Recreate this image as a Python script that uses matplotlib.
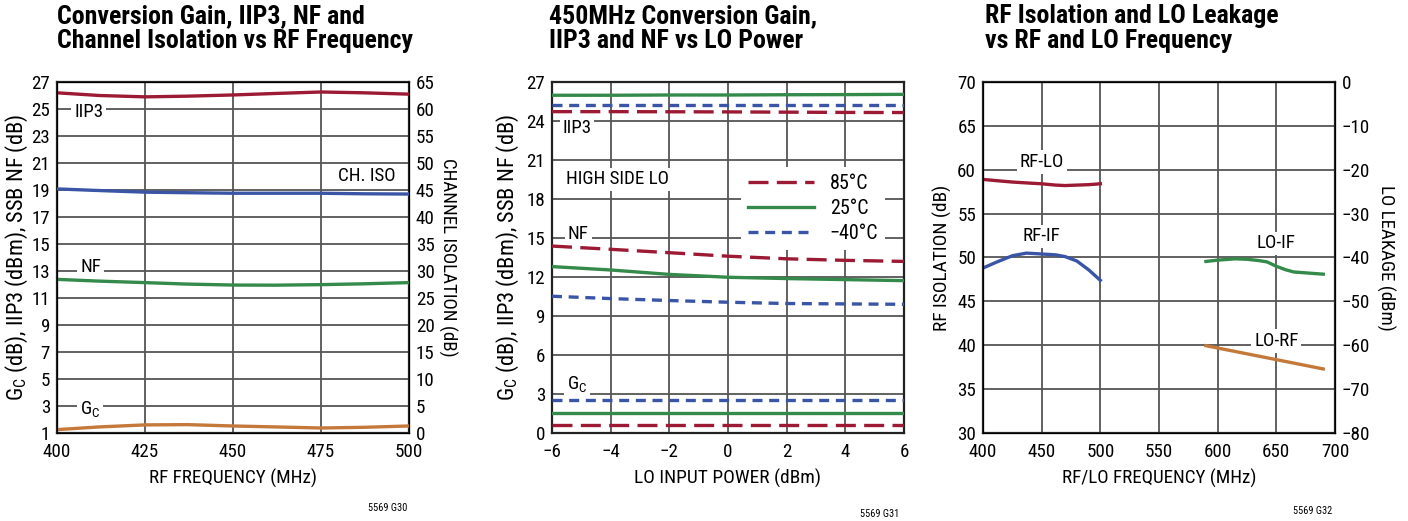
#!/usr/bin/env python3
"""
Conversion gain / IIP3 / NF / isolation plots, three panels side by side.
"""

import matplotlib
matplotlib.use("Agg")
import matplotlib.pyplot as plt
from matplotlib import font_manager

# --- data ---
# panel 1: vs RF frequency
rf_freq = [400, 412, 425, 437, 450, 462, 475, 487, 500]
iip3_rf = [26.2, 26.0, 25.9, 25.95, 26.04, 26.15, 26.26, 26.2, 26.1]
chiso_rf = [45.2, 44.9, 44.6, 44.5, 44.4, 44.4, 44.4, 44.3, 44.25]
nf_rf = [12.38, 12.25, 12.14, 12.03, 11.96, 11.95, 11.99, 12.05, 12.14]
gc_rf = [1.25, 1.45, 1.6, 1.62, 1.52, 1.45, 1.37, 1.42, 1.52]

# panel 2: vs LO power, three temperatures
lo_pwr = [-6, -4, -2, 0, 2, 4, 6]
iip3_85 = [24.72, 24.72, 24.71, 24.7, 24.68, 24.66, 24.65]
iip3_25 = [25.98, 25.98, 26.0, 26.0, 26.02, 26.03, 26.05]
iip3_m40 = [25.2, 25.2, 25.2, 25.2, 25.2, 25.2, 25.2]
nf_85 = [14.38, 14.13, 13.87, 13.6, 13.4, 13.28, 13.2]
nf_25 = [12.8, 12.54, 12.2, 11.98, 11.88, 11.8, 11.72]
nf_m40 = [10.52, 10.34, 10.19, 10.06, 9.96, 9.93, 9.9]
gc_85 = [0.64, 0.64, 0.64, 0.64, 0.64, 0.64, 0.64]
gc_25 = [1.56, 1.56, 1.56, 1.56, 1.56, 1.56, 1.56]
gc_m40 = [2.53, 2.53, 2.53, 2.53, 2.53, 2.53, 2.53]
temps = ["85°C", "25°C", "\u221240°C"]

# panel 3: isolation and leakage
rf_iso_freq = [400, 412, 425, 437, 450, 462, 470, 480, 490, 500]
rf_lo = [58.9, 58.75, 58.6, 58.5, 58.4, 58.25, 58.2, 58.25, 58.3, 58.4]
rf_if = [48.8, 49.5, 50.2, 50.5, 50.4, 50.3, 50.1, 49.6, 48.6, 47.4]
lo_freq = [590, 600, 615, 625, 635, 642, 650, 658, 665, 675, 690]
lo_if = [-40.9, -40.6, -40.3, -40.4, -40.7, -41.0, -42.0, -42.8, -43.3, -43.5, -43.8]
lo_rf_freq = [590, 690]
lo_rf = [-60.1, -65.4]

# --- font: look for a narrow sans, else plain DejaVu ---
FAM, STRETCH = "DejaVu Sans", "normal"
names = {}
for f in font_manager.fontManager.ttflist:
    names.setdefault(f.name, set()).add(str(f.stretch))
for cand in ["Liberation Sans Narrow", "Roboto Condensed", "DejaVu Sans Condensed",
             "Open Sans Condensed", "Noto Sans Condensed"]:
    if cand in names:
        FAM = cand
        break
else:
    for n, st in names.items():
        if n in ("DejaVu Sans", "Roboto", "Open Sans", "Noto Sans", "Liberation Sans") and \
                any(s in ("condensed", "semi-condensed", "75", "87.5") for s in st):
            FAM, STRETCH = n, "condensed"
            break
plt.rcParams["font.family"] = [FAM, "DejaVu Sans"]
plt.rcParams["font.stretch"] = STRETCH
plt.rcParams["mathtext.fontset"] = "custom"
plt.rcParams["mathtext.rm"] = FAM
plt.rcParams["axes.unicode_minus"] = True

RED = "#9c1a33"
BLUE = "#3b55a6"
GREEN = "#348a4a"
ORANGE = "#c4783a"
GRID = "#555555"
LW = 2.4
TICK_FS = 15
LAB_FS = 13.5
TXT_FS = 14

fig = plt.figure(figsize=(14.08, 5.21), dpi=100)
W, H = 352 / 1408, 351 / 521
BOT = 1 - 433 / 521
lefts = [57 / 1408, 552 / 1408, 983 / 1408]
axes = [fig.add_axes([l, BOT, W, H]) for l in lefts]
renderer = fig.canvas.get_renderer()


def fit_width(txt, target_px, vertical=False):
    # shrink/grow a text so it spans about target_px like the reference
    bb = txt.get_window_extent(renderer)
    span = bb.height if vertical else bb.width
    if span > 0:
        txt.set_fontsize(txt.get_fontsize() * target_px / span)


def style(ax):
    ax.grid(True, color=GRID, linewidth=1.3)
    ax.set_axisbelow(True)
    ax.tick_params(length=0, labelsize=TICK_FS, pad=5)
    ax.tick_params(axis="x", pad=7)
    for s in ax.spines.values():
        s.set_linewidth(1.6)
        s.set_color("#222222")


# size tick labels so "400" is ~28 px wide
probe = fig.text(0, 0, "400", fontsize=TICK_FS)
fit_width(probe, 28)
TICK_FS = min(TICK_FS, probe.get_fontsize())
probe = fig.text(0, 0, "HIGH SIDE LO", fontsize=TXT_FS)
fit_width(probe, 104)
TXT_FS = min(TXT_FS, probe.get_fontsize())
fig.texts.clear()


def label(ax, x, y, s, ha="center"):
    ax.text(x, y, s, fontsize=TXT_FS, ha=ha, va="center", zorder=3,
            bbox=dict(facecolor="white", edgecolor="none", pad=2))


GC = r"G$_\mathregular{C}$"

# panel 1
ax = axes[0]
style(ax)
ax.set_xlim(400, 500)
ax.set_ylim(1, 27)
ax.set_xticks(range(400, 501, 25))
ax.set_yticks(range(1, 28, 2))
ax.plot(rf_freq, iip3_rf, color=RED, lw=LW, zorder=4)
ax.plot(rf_freq, nf_rf, color=GREEN, lw=LW, zorder=4)
ax.plot(rf_freq, gc_rf, color=ORANGE, lw=LW, zorder=4)
ax2 = ax.twinx()
ax2.set_ylim(0, 65)
ax2.set_yticks(range(0, 66, 5))
ax2.tick_params(length=0, labelsize=TICK_FS, pad=5)
ax2.plot(rf_freq, chiso_rf, color=BLUE, lw=LW, zorder=4)
label(ax, 409, 24.8, "IIP3")
label(ax, 409.5, 13.3, "NF")
label(ax, 409.5, 2.7, GC)
label(ax2, 488, 47.5, "CH. ISO")
xl1 = ax.set_xlabel("RF FREQUENCY (MHz)", fontsize=LAB_FS, labelpad=6)
yl1 = ax.set_ylabel(GC + " (dB), IIP3 (dBm), SSB NF (dB)", fontsize=LAB_FS, labelpad=1)
yr1 = ax2.set_ylabel("CHANNEL ISOLATION (dB)", fontsize=LAB_FS, rotation=-90, labelpad=16)

# panel 2
ax = axes[1]
style(ax)
ax.set_xlim(-6, 6)
ax.set_ylim(0, 27)
ax.set_xticks(range(-6, 7, 2))
ax.set_yticks(range(0, 28, 3))
dash85 = (0, (6, 2.5))
dashm40 = (0, (3, 2))
series = [
    (iip3_85, nf_85, gc_85, RED, dash85),
    (iip3_25, nf_25, gc_25, GREEN, "-"),
    (iip3_m40, nf_m40, gc_m40, BLUE, dashm40),
]
for (iip3, nf, gc, c, ls), t in zip(series, temps):
    ax.plot(lo_pwr, iip3, color=c, lw=LW, ls=ls, zorder=4, label=t)
    ax.plot(lo_pwr, nf, color=c, lw=LW, ls=ls, zorder=4)
    ax.plot(lo_pwr, gc, color=c, lw=LW, ls=ls, zorder=4)
label(ax, -5.15, 23.45, "IIP3")
label(ax, -5.53, 19.5, "HIGH SIDE LO", ha="left")
label(ax, -5.1, 15.3, "NF")
label(ax, -5.15, 3.7, GC)
leg = ax.legend(loc="upper right", bbox_to_anchor=(0.975, 0.785), fontsize=TXT_FS * 1.05,
                frameon=True, fancybox=False, handlelength=3.3, labelspacing=0.3,
                borderpad=0.35, handletextpad=0.8)
leg.get_frame().set_edgecolor("none")
leg.get_frame().set_facecolor("white")
leg.get_frame().set_alpha(1)
leg.set_zorder(5)
xl2 = ax.set_xlabel("LO INPUT POWER (dBm)", fontsize=LAB_FS, labelpad=6)
yl2 = ax.set_ylabel(GC + " (dB), IIP3 (dBm), SSB NF (dB)", fontsize=LAB_FS, labelpad=4)

# panel 3
ax = axes[2]
style(ax)
ax.set_xlim(400, 700)
ax.set_ylim(30, 70)
ax.set_xticks(range(400, 701, 50))
ax.set_yticks(range(30, 71, 5))
ax.plot(rf_iso_freq, rf_lo, color=RED, lw=LW, zorder=4)
ax.plot(rf_iso_freq, rf_if, color=BLUE, lw=LW, zorder=4)
ax2 = ax.twinx()
ax2.set_ylim(-80, 0)
ax2.set_yticks(range(-80, 1, 10))
ax2.tick_params(length=0, labelsize=TICK_FS, pad=5)
ax2.plot(lo_freq, lo_if, color=GREEN, lw=LW, zorder=4)
ax2.plot(lo_rf_freq, lo_rf, color=ORANGE, lw=LW, zorder=4)
label(ax, 450, 60.85, "RF-LO")
label(ax, 450, 52.4, "RF-IF")
label(ax, 650, 51.6, "LO-IF")
label(ax, 650, 40.5, "LO-RF")
xl3 = ax.set_xlabel("RF/LO FREQUENCY (MHz)", fontsize=LAB_FS, labelpad=6)
yl3 = ax.set_ylabel("RF ISOLATION (dB)", fontsize=LAB_FS, labelpad=4)
yr3 = ax2.set_ylabel("LO LEAKAGE (dBm)", fontsize=LAB_FS, rotation=-90, labelpad=18)

# fit axis labels to the reference spans (px)
fit_width(xl1, 168)
fit_width(xl2, 186)
fit_width(xl3, 194)
fit_width(yl1, 288, vertical=True)
fit_width(yl2, 288, vertical=True)
fit_width(yl3, 145, vertical=True)
fit_width(yr1, 198, vertical=True)
fit_width(yr3, 145, vertical=True)

# titles and figure codes
titles = [
    "Conversion Gain, IIP3, NF and\nChannel Isolation vs RF Frequency",
    "450MHz Conversion Gain,\nIIP3 and NF vs LO Power",
    "RF Isolation and LO Leakage\nvs RF and LO Frequency",
]
title_x = [57, 549, 985]
tts = []
for x, t in zip(title_x, titles):
    tts.append(fig.text(x / 1408, 1 - 4 / 521, t, fontsize=17, fontweight="bold",
                        ha="left", va="top", linespacing=1.05))
fit_width(tts[0], 357)
for t in tts[1:]:
    t.set_fontsize(tts[0].get_fontsize())

codes = [("5569 G30", 388, 508), ("5569 G31", 880, 514), ("5569 G32", 1313, 511)]
for s, x, y in codes:
    fig.text(x / 1408, 1 - y / 521, s, fontsize=7.5, ha="center", va="center")

fig.savefig("out.png", dpi=100)
